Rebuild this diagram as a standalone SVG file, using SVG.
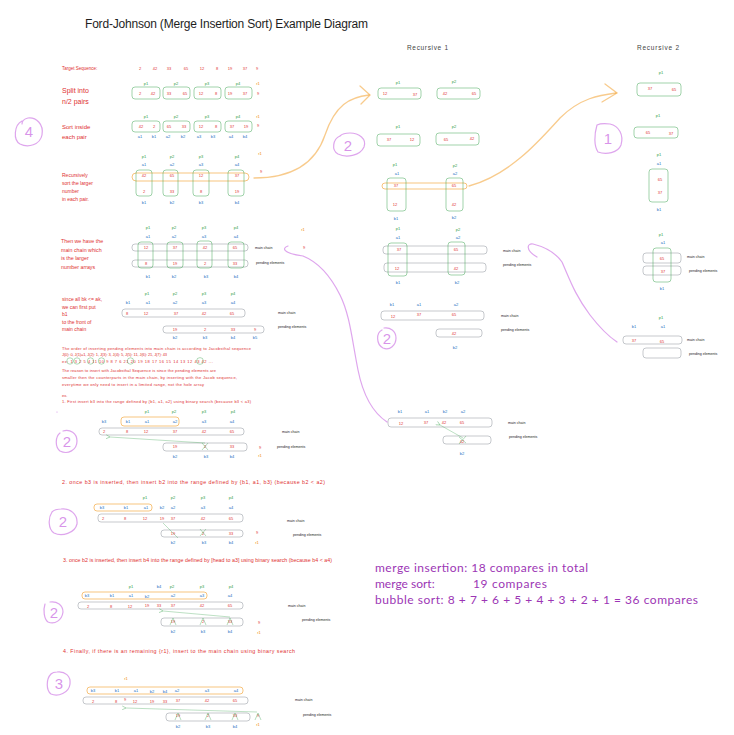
<svg xmlns="http://www.w3.org/2000/svg" width="734" height="735" viewBox="0 0 734 735">
<defs>
<style>
text{font-family:"Liberation Sans",Arial,sans-serif}
.r{fill:#e03131}.g{fill:#2f9e44}.bl{fill:#1971c2}.or{fill:#f08c00}
.s{font-size:4px;text-anchor:middle;dominant-baseline:central}
.k{fill:#1e1e1e;font-size:3.6px;dominant-baseline:central}
.lab{fill:#e03131;dominant-baseline:central}
.gb{fill:none;stroke:#2f9e44;stroke-opacity:.45;stroke-width:1}
.gr{fill:none;stroke:#868e96;stroke-opacity:.6;stroke-width:.8}
.ob{fill:none;stroke:#f08c00;stroke-opacity:.5;stroke-width:1}
.pu{fill:none;stroke:#be4bdb;stroke-opacity:.5;stroke-width:1.2;stroke-linecap:round}
.pt{fill:#be4bdb;fill-opacity:.6;font-size:15px;text-anchor:middle;dominant-baseline:central}
.oc{fill:none;stroke:#f08c00;stroke-opacity:.45;stroke-width:1.3;stroke-linecap:round}
.ga{fill:none;stroke:#2f9e44;stroke-opacity:.4;stroke-width:.8}
.x{fill:none;stroke:#2f9e44;stroke-opacity:.5;stroke-width:.7}
</style>
<marker id="ah" viewBox="0 0 10 10" refX="1" refY="5" markerWidth="6" markerHeight="6" orient="auto-start-reverse"><path d="M9,1 L1,5 L9,9" fill="none" stroke="#2f9e44" stroke-opacity=".6" stroke-width="1.3"/></marker>
</defs>
<rect width="734" height="735" fill="#ffffff"/>

<text x="85" y="28" font-size="12" fill="#1e1e1e" textLength="283">Ford-Johnson (Merge Insertion Sort) Example Diagram</text>
<text x="407" y="50" font-size="6.5" fill="#444" textLength="41">Recursive 1</text>
<text x="637" y="50" font-size="6.5" fill="#444" textLength="42">Recursive 2</text>

<g id="row-target">
<text x="62" y="68" class="lab" font-size="4.5">Target Sequence:</text>
<g class="r s"><text x="140" y="68">2</text><text x="155" y="68">42</text><text x="169" y="68">33</text><text x="186" y="68">65</text><text x="202" y="68">12</text><text x="217" y="68">8</text><text x="230" y="68">19</text><text x="245" y="68">37</text><text x="257" y="68">9</text></g>
</g>

<g id="row-split">
<text x="62" y="90" class="lab" font-size="7">Split into</text>
<text x="62" y="101" class="lab" font-size="7">n/2 pairs</text>
<rect class="gb" x="132" y="87" width="28" height="12" rx="3"/><rect class="gb" x="163" y="87" width="27" height="12" rx="3"/><rect class="gb" x="194" y="87" width="27" height="12" rx="3"/><rect class="gb" x="225" y="87" width="27" height="12" rx="3"/>
<g class="g s"><text x="146" y="83">p1</text><text x="176" y="83">p2</text><text x="207" y="83">p3</text><text x="238" y="83">p4</text></g>
<text x="258" y="83" class="or s">r1</text>
<g class="r s"><text x="140" y="93">2</text><text x="153" y="93">42</text><text x="169" y="93">33</text><text x="185" y="93">65</text><text x="201" y="93">12</text><text x="216" y="93">8</text><text x="230" y="93">19</text><text x="245" y="93">37</text><text x="258" y="93">9</text></g>
</g>

<g id="row-sort">
<text x="62" y="127" class="lab" font-size="6">Sort inside</text>
<text x="62" y="137" class="lab" font-size="6">each pair</text>
<rect class="gb" x="132" y="121" width="28" height="11" rx="3"/><rect class="gb" x="163" y="121" width="27" height="11" rx="3"/><rect class="gb" x="194" y="121" width="27" height="11" rx="3"/><rect class="gb" x="225" y="121" width="27" height="11" rx="3"/>
<g class="g s"><text x="146" y="116">p1</text><text x="176" y="116">p2</text><text x="207" y="116">p3</text><text x="238" y="116">p4</text></g>
<text x="258" y="116" class="or s">r1</text>
<g class="r s"><text x="141" y="126.5">42</text><text x="154" y="126.5">2</text><text x="169" y="126.5">65</text><text x="184" y="126.5">33</text><text x="201" y="126.5">12</text><text x="216" y="126.5">8</text><text x="232" y="126.5">37</text><text x="246" y="126.5">19</text><text x="258" y="125">9</text></g>
<g class="bl s"><text x="140" y="136">a1</text><text x="154" y="136">b1</text><text x="168" y="136">a2</text><text x="183" y="136">b2</text><text x="199" y="136">a3</text><text x="213" y="136">b3</text><text x="231" y="136">a4</text><text x="245" y="136">b4</text></g>
</g>

<g id="row-recursive">
<text x="62" y="175" class="lab" font-size="5">Recursively</text>
<text x="62" y="183" class="lab" font-size="5">sort the larger</text>
<text x="62" y="191" class="lab" font-size="5">number</text>
<text x="62" y="199" class="lab" font-size="5">in each pair.</text>
<rect class="ob" x="132" y="173" width="117" height="8" rx="4"/>
<rect class="gb" x="136" y="170" width="16" height="26" rx="3"/><rect class="gb" x="163" y="170" width="15" height="26" rx="3"/><rect class="gb" x="193" y="170" width="16" height="26" rx="3"/><rect class="gb" x="228" y="170" width="16" height="26" rx="3"/>
<g class="g s"><text x="144" y="156">p1</text><text x="172" y="156">p2</text><text x="201" y="156">p3</text><text x="237" y="156">p4</text></g>
<g class="bl s"><text x="144" y="164">a1</text><text x="172" y="164">a2</text><text x="201" y="164">a3</text><text x="237" y="164">a4</text><text x="144" y="202">b1</text><text x="172" y="202">b2</text><text x="201" y="202">b3</text><text x="237" y="202">b4</text></g>
<text x="260" y="153" class="or s">r1</text>
<g class="r s"><text x="144" y="175">42</text><text x="172" y="175">65</text><text x="201" y="175">12</text><text x="237" y="175">37</text><text x="144" y="191">2</text><text x="172" y="191">33</text><text x="201" y="191">8</text><text x="237" y="191">19</text><text x="261" y="171">9</text></g>
</g>

<g id="row-mainchain">
<text x="61" y="241" class="lab" font-size="5.3">Then we have the</text>
<text x="61" y="249.5" class="lab" font-size="5.3">main chain which</text>
<text x="61" y="258" class="lab" font-size="5.3">is the larger</text>
<text x="61" y="267" class="lab" font-size="5.3">number arrays</text>
<rect class="gr" x="132" y="244" width="116" height="7" rx="3"/><rect class="gr" x="132" y="260" width="116" height="7" rx="3"/>
<rect class="gb" x="138" y="242" width="15" height="26" rx="3"/><rect class="gb" x="167" y="242" width="16" height="26" rx="3"/><rect class="gb" x="197" y="241" width="15" height="27" rx="3"/><rect class="gb" x="228" y="242" width="16" height="26" rx="3"/>
<g class="g s"><text x="148" y="227">p1</text><text x="174" y="227">p2</text><text x="204" y="227">p3</text><text x="236" y="227">p4</text></g>
<g class="bl s"><text x="148" y="236">a1</text><text x="174" y="236">a2</text><text x="204" y="236">a3</text><text x="236" y="236">a4</text><text x="148" y="276">b1</text><text x="174" y="276">b2</text><text x="206" y="276">b3</text><text x="236" y="276">b4</text></g>
<g class="r s"><text x="146" y="247.5">12</text><text x="175" y="247.5">37</text><text x="205" y="247.5">42</text><text x="235" y="247.5">65</text><text x="146" y="263.5">8</text><text x="175" y="263.5">19</text><text x="205" y="263.5">2</text><text x="235" y="263.5">33</text><text x="304" y="247">9</text></g>
<text x="303" y="229" class="or s">r1</text>
<text x="255" y="248" class="k">main chain</text><text x="256" y="263" class="k">pending elements</text>
</g>

<g id="row-b1front">
<text x="62" y="299" class="lab" font-size="5">since all bk &lt;= ak,</text>
<text x="62" y="307" class="lab" font-size="5">we can first put</text>
<text x="62" y="314" class="lab" font-size="5">b1</text>
<text x="62" y="322" class="lab" font-size="5">to the front of</text>
<text x="62" y="329" class="lab" font-size="5">main chain</text>
<rect class="gr" x="122" y="309" width="123" height="8" rx="3"/><rect class="gr" x="163" y="326" width="101" height="7" rx="3"/>
<g class="g s"><text x="147" y="293">p1</text><text x="175" y="293">p2</text><text x="204" y="293">p3</text><text x="233" y="293">p4</text></g>
<g class="bl s"><text x="128" y="302">b1</text><text x="148" y="302">a1</text><text x="175" y="302">a2</text><text x="204" y="302">a3</text><text x="233" y="302">a4</text><text x="175" y="337">b2</text><text x="205" y="337">b3</text><text x="233" y="337">b4</text><text x="255" y="337">b5</text></g>
<g class="r s"><text x="127" y="313">8</text><text x="146" y="313">12</text><text x="176" y="313">37</text><text x="204" y="313">42</text><text x="232" y="313">65</text><text x="175" y="329">19</text><text x="205" y="329">2</text><text x="233" y="329">33</text><text x="255" y="329">9</text></g>
<text x="278" y="313" class="k">main chain</text><text x="278" y="327" class="k">pending elements</text>
</g>

<g id="notes" class="r" font-size="4">
<text x="62" y="350" textLength="189">The order of inserting pending elements into main chain is according to Jacobsthal sequence</text>
<text x="62" y="356" textLength="105">J(0): 0, J(1)=1, J(2): 1, J(3): 3, J(4): 5, J(5): 11, J(6): 21, J(7): 43</text>
<text x="62" y="362.5" textLength="151">ex: 1 3 2 5 4 11 10 9 8 7 6 21 20 19 18 17 16 15 14 13 12 43 42 ...</text>
<text x="62" y="372" textLength="154">The reason to insert with Jacobsthal Sequence is since the pending elements are</text>
<text x="62" y="379" textLength="175">smaller then the counterparts in the main chain, by inserting with the Jacob sequence,</text>
<text x="62" y="385.5" textLength="142">everytime we only need to insert in a limited range, not the hole array</text>
<text x="62" y="396.5">ex.</text>
<text x="62" y="402.5" textLength="189">1. First insert b3 into the range defined by {b1, a1, a2} using binary search (because b3 &lt; a3)</text>
</g>
<g id="jacob-circles" fill="none" stroke="#2f9e44" stroke-opacity=".55" stroke-width=".7">
<circle cx="70" cy="361" r="3.2"/><circle cx="77" cy="361" r="3.2"/><circle cx="90.5" cy="361" r="3.2"/><circle cx="101.5" cy="361" r="3.2"/><circle cx="130.5" cy="361" r="3.2"/><circle cx="200" cy="361" r="3.4"/>
</g>

<g id="step1">
<rect class="ob" x="121" y="417" width="58" height="9" rx="3"/>
<rect class="gr" x="99" y="428" width="145" height="7" rx="3"/><rect class="gr" x="163" y="443" width="84" height="8" rx="3"/>
<g class="g s"><text x="147" y="411">p1</text><text x="174" y="411">p2</text><text x="204" y="411">p3</text><text x="233" y="411">p4</text></g>
<g class="bl s"><text x="104" y="421">b3</text><text x="128" y="421">b1</text><text x="147" y="421">a1</text><text x="175" y="421">a2</text><text x="204" y="421">a3</text><text x="232" y="421">a4</text><text x="175" y="456">b2</text><text x="206" y="456">b3</text><text x="232" y="456">b4</text></g>
<g class="r s"><text x="104" y="431">2</text><text x="127" y="431">8</text><text x="146" y="431">12</text><text x="175" y="431">37</text><text x="204" y="431">42</text><text x="232" y="431">65</text><text x="175" y="446.5">19</text><text x="205" y="446.5">2</text><text x="232" y="446.5">33</text><text x="260" y="447">9</text></g>
<text x="260" y="455" class="or s">r1</text>
<text x="282" y="432" class="k">main chain</text><text x="277" y="447" class="k">pending elements</text>
<text x="62" y="481.5" class="lab" font-size="5.3" textLength="263">2. once b3 is inserted, then insert b2 into the range defined by {b1, a1, b3} (because b2 &lt; a2)</text>
</g>

<g id="step2">
<rect class="ob" x="94" y="504" width="58" height="7" rx="3"/>
<rect class="gr" x="98" y="514" width="145" height="8" rx="3"/><rect class="gr" x="161" y="530" width="82" height="7" rx="3"/>
<g class="g s"><text x="145" y="497">p1</text><text x="173" y="497">p2</text><text x="203" y="497">p3</text><text x="231" y="497">p4</text></g>
<g class="bl s"><text x="102" y="507">b3</text><text x="126" y="507">b1</text><text x="146" y="507">a1</text><text x="162" y="507">b2</text><text x="173" y="507">a2</text><text x="203" y="507">a3</text><text x="231" y="507">a4</text><text x="173" y="542">b2</text><text x="204" y="542">b3</text><text x="231" y="542">b4</text></g>
<g class="r s"><text x="103" y="518">2</text><text x="125" y="518">8</text><text x="145" y="518">12</text><text x="162" y="518">19</text><text x="173" y="518">37</text><text x="203" y="518">42</text><text x="231" y="518">65</text><text x="173" y="533">19</text><text x="203" y="533">2</text><text x="231" y="533">33</text><text x="257" y="532">9</text></g>
<text x="257" y="542" class="or s">r1</text>
<text x="287" y="521" class="k">main chain</text><text x="293" y="535" class="k">pending elements</text>
<text x="63" y="559.5" class="lab" font-size="5.3" textLength="269">3. once b2 is inserted, then insert b4 into the range defined by [head to a3] using binary search (because b4 &lt; a4)</text>
</g>

<g id="step3">
<rect class="ob" x="82" y="592" width="125" height="7" rx="3"/>
<rect class="gr" x="78" y="602" width="165" height="7" rx="3"/><rect class="gr" x="161" y="618" width="82" height="8" rx="3"/>
<g class="g s"><text x="131" y="586">p1</text><text x="172" y="586">p2</text><text x="202" y="586">p3</text><text x="231" y="586">p4</text></g>
<g class="bl s"><text x="159" y="586">b4</text><text x="87" y="595.5">b3</text><text x="112" y="595.5">b1</text><text x="131" y="595.5">a1</text><text x="147" y="596.5">b2</text><text x="173" y="595.5">a2</text><text x="202" y="595.5">a3</text><text x="230" y="595.5">a4</text><text x="173" y="631">b2</text><text x="203" y="631">b3</text><text x="230" y="631">b4</text></g>
<g class="r s"><text x="88" y="606">2</text><text x="111" y="606">8</text><text x="130" y="606">12</text><text x="147" y="605.5">19</text><text x="159" y="605.5">33</text><text x="173" y="605.5">37</text><text x="202" y="605">42</text><text x="230" y="605">65</text><text x="173" y="621.5">19</text><text x="203" y="621.5">2</text><text x="230" y="621.5">33</text><text x="259" y="622">9</text></g>
<text x="259" y="632" class="or s">r1</text>
<text x="288" y="606" class="k">main chain</text><text x="302" y="620" class="k">pending elements</text>
<text x="63" y="650.5" class="lab" font-size="5.3" textLength="232">4. Finally, if there is an remaining {r1}, insert to the main chain using binary search</text>
</g>

<g id="step4">
<rect class="ob" x="87" y="687" width="156" height="7" rx="3"/>
<rect class="gr" x="83" y="697" width="165" height="7" rx="3"/><rect class="gr" x="166" y="713" width="84" height="8" rx="3"/>
<text x="126" y="678" class="or s">r1</text>
<g class="bl s"><text x="93" y="690.5">b3</text><text x="117" y="690.5">b1</text><text x="136" y="690.5">a1</text><text x="152" y="691.5">b2</text><text x="165" y="691.5">b4</text><text x="177" y="690.5">a2</text><text x="207" y="690.5">a3</text><text x="236" y="690.5">a4</text><text x="178" y="726">b2</text><text x="208" y="726">b3</text><text x="235" y="726">b4</text></g>
<g class="r s"><text x="93" y="701">2</text><text x="116" y="701">8</text><text x="125" y="699">9</text><text x="135" y="701">12</text><text x="152" y="701">19</text><text x="165" y="701">33</text><text x="178" y="700.5">37</text><text x="207" y="700">42</text><text x="235" y="700">65</text><text x="178" y="715">19</text><text x="208" y="715">2</text><text x="235" y="715">33</text><text x="258" y="715">9</text></g>
<text x="258" y="724" class="or s">r1</text>
<text x="295" y="700" class="k">main chain</text><text x="303" y="715" class="k">pending elements</text>
</g>

<g id="rec1-pairs">
<rect class="gb" x="378" y="88" width="43" height="11" rx="3"/><rect class="gb" x="437" y="88" width="43" height="11" rx="3"/>
<g class="g s"><text x="398" y="82">p1</text><text x="454" y="81">p2</text></g>
<g class="r s"><text x="385" y="93.5">12</text><text x="415" y="94">37</text><text x="445" y="93.5">42</text><text x="474" y="93.5">65</text></g>
</g>
<g id="rec1-sorted">
<rect class="gb" x="377" y="134" width="43" height="12" rx="3"/><rect class="gb" x="436" y="133" width="43" height="12" rx="3"/>
<g class="g s"><text x="398" y="126">p1</text><text x="454" y="126">p2</text></g>
<g class="r s"><text x="389" y="139.5">37</text><text x="412" y="139">12</text><text x="446" y="139">65</text><text x="472" y="138.5">42</text></g>
</g>
<g id="rec1-recursive">
<rect class="ob" x="382" y="183" width="85" height="6" rx="3"/>
<rect class="gb" x="387" y="178" width="19" height="33" rx="3"/><rect class="gb" x="446" y="178" width="17" height="33" rx="3"/>
<g class="g s"><text x="395" y="164">p1</text><text x="455" y="165">p2</text></g>
<g class="bl s"><text x="397" y="173">a1</text><text x="455" y="173">a2</text><text x="396" y="218">b1</text><text x="454" y="217">b2</text></g>
<g class="r s"><text x="396" y="185.5">37</text><text x="454" y="185.5">65</text><text x="395" y="204">12</text><text x="454" y="204">42</text></g>
</g>
<g id="rec1-chain">
<rect class="gr" x="383" y="246" width="104" height="8" rx="3"/><rect class="gr" x="384" y="263" width="102" height="9" rx="3"/>
<rect class="gb" x="388" y="243" width="19" height="33" rx="3"/><rect class="gb" x="448" y="242" width="17" height="33" rx="3"/>
<g class="g s"><text x="398" y="228">p1</text><text x="458" y="229">p2</text></g>
<g class="bl s"><text x="398" y="237">a1</text><text x="458" y="237">a2</text><text x="398" y="282">b1</text><text x="457" y="282">b2</text></g>
<g class="r s"><text x="399" y="249.5">37</text><text x="456" y="249.5">65</text><text x="397" y="268">12</text><text x="456" y="268">42</text></g>
<text x="503" y="251" class="k">main chain</text><text x="503" y="265" class="k">pending elements</text>
</g>
<g id="rec1-b1front">
<rect class="gr" x="381" y="311" width="103" height="9" rx="3"/><rect class="gr" x="436" y="329" width="46" height="8" rx="3"/>
<g class="bl s"><text x="392" y="304">b1</text><text x="419" y="304">a1</text><text x="456" y="304">a2</text><text x="455" y="347">b2</text></g>
<g class="r s"><text x="393" y="316">12</text><text x="419" y="314">37</text><text x="454" y="314">65</text><text x="454" y="333">42</text></g>
<text x="501" y="316" class="k">main chain</text><text x="501" y="330" class="k">pending elements</text>
</g>
<g id="rec1-insert">
<rect class="gr" x="388" y="418" width="104" height="9" rx="3"/><rect class="gr" x="443" y="436" width="48" height="8" rx="3"/>
<g class="bl s"><text x="400" y="411">b1</text><text x="427" y="411">a1</text><text x="445" y="411">b2</text><text x="463" y="411">a2</text><text x="462" y="453">b2</text></g>
<g class="r s"><text x="401" y="423.5">12</text><text x="426" y="422">37</text><text x="444" y="422">42</text><text x="462" y="422">65</text><text x="462" y="441">42</text></g>
<text x="508" y="423" class="k">main chain</text><text x="509" y="437" class="k">pending elements</text>
</g>

<g id="rec2-pair">
<rect class="gb" x="637" y="83" width="44" height="13" rx="3"/>
<text x="661" y="72" class="g s">p1</text>
<g class="r s"><text x="650" y="88.5">37</text><text x="674" y="89">65</text></g>
</g>
<g id="rec2-sorted">
<rect class="gb" x="634" y="127" width="44" height="11" rx="3"/>
<text x="658" y="115" class="g s">p1</text>
<g class="r s"><text x="648" y="132">65</text><text x="671" y="133">37</text></g>
</g>
<g id="rec2-vertical">
<rect class="gb" x="649" y="169" width="19" height="33" rx="3"/>
<text x="659" y="154" class="g s">p1</text>
<g class="bl s"><text x="659" y="163">a1</text><text x="659" y="209">b1</text></g>
<g class="r s"><text x="660" y="179">65</text><text x="660" y="192">37</text></g>
</g>
<g id="rec2-chain">
<rect class="gr" x="643" y="253" width="38" height="10" rx="3"/><rect class="gr" x="643" y="266" width="38" height="9" rx="3"/>
<rect class="gb" x="653" y="248" width="18" height="34" rx="3"/>
<text x="661" y="234" class="g s">p1</text>
<g class="bl s"><text x="663" y="242">a1</text><text x="662" y="288">b1</text></g>
<g class="r s"><text x="662" y="258">65</text><text x="663" y="271">37</text></g>
<text x="687" y="257" class="k">main chain</text><text x="689" y="271" class="k">pending elements</text>
</g>
<g id="rec2-final">
<rect class="gr" x="623" y="336" width="59" height="8" rx="3"/><rect class="gr" x="643" y="348" width="38" height="10" rx="3"/>
<text x="661" y="317" class="g s">p1</text>
<g class="bl s"><text x="634" y="326">b1</text><text x="663" y="326">a1</text></g>
<g class="r s"><text x="634" y="340">37</text><text x="662" y="341">65</text></g>
<text x="687" y="340" class="k">main chain</text><text x="689" y="354" class="k">pending elements</text>
</g>

<g id="stats" fill="#9c36b5" font-size="12">
<text x="375" y="572" textLength="213" style="font-family:Lato,'Noto Sans',sans-serif">merge insertion: 18 compares in total</text>
<text x="375" y="588" style="font-family:Lato,'Noto Sans',sans-serif">merge sort:</text>
<text x="473" y="588" textLength="74" style="font-family:Lato,'Noto Sans',sans-serif">19 compares</text>
<text x="375" y="604" textLength="323" style="font-family:Lato,'Noto Sans',sans-serif">bubble sort:  8 + 7 + 6 + 5 + 4 + 3 + 2 + 1 = 36 compares</text>
</g>

<g id="marks">
<path class="pu" d="M22,121 C14,125 13,140 20,144 C28,148 40,145 42,135 C44,124 36,117 28,118 C24,119 22,121 22,124"/>
<text x="29" y="131" class="pt" font-size="14">4</text>
<path class="pu" d="M340,136 C333,139 331,150 338,154 C346,158 360,156 364,147 C367,139 359,133 350,133 C345,133 342,134 340,136"/>
<text x="348" y="145" class="pt" font-size="11">2</text>
<path class="pu" d="M382,330 C376,333 376,344 383,348 C390,351 396,345 396,338 C396,331 390,327 384,328"/>
<text x="387" y="338" class="pt" font-size="8">2</text>
<path class="pu" d="M597,125 C594,135 594,146 598,152 C606,155 618,153 621,145 C624,135 619,126 610,124 C603,123 599,124 597,125"/>
<text x="608" y="138" class="pt" font-size="11">1</text>
<path class="pu" d="M60,433 C55,437 55,447 60,451 C68,455 77,450 77,441 C77,433 70,429 63,431"/>
<text x="67" y="441" class="pt" font-size="10">2</text>
<path class="pu" d="M52,512 C48,518 48,529 54,533 C62,537 75,533 77,524 C78,514 70,508 61,509 C57,509 54,510 52,512"/>
<text x="63" y="521" class="pt" font-size="12">2</text>
<path class="pu" d="M45,604 C43,610 44,619 48,622 C55,625 62,620 63,612 C63,605 57,601 50,602"/>
<text x="54" y="612" class="pt" font-size="11">2</text>
<path class="pu" d="M51,674 C46,679 46,690 51,694 C58,697 69,693 70,684 C71,676 65,671 57,672 C54,672 52,673 51,674"/>
<text x="59" y="683" class="pt" font-size="12">3</text>
<circle cx="57" cy="412" r=".6" fill="#be4bdb" fill-opacity=".6"/>
</g>

<g id="connectors">
<path class="oc" d="M254,178 C290,178 315,165 325,135 C335,105 350,97 369,95"/>
<path class="oc" d="M360,86 L370,95 L361,104"/>
<path class="oc" d="M469,186 C510,175 540,140 560,118 C580,98 600,95 616,93"/>
<path class="oc" d="M605,84 L617,93 L602,102"/>
<path class="pu" d="M288,246 C282,248 282,253 303,256 C318,262 330,275 340,295 C350,315 352,340 358,370 C363,395 372,412 387,422"/>
<path class="pu" d="M537,257 C525,250 527,243 533,244 C545,247 555,252 562,262 C570,280 575,295 590,315 C600,328 608,336 617,342"/>
<path class="ga" d="M205,443 L110,437" marker-end="url(#ah)"/>
<path class="x" d="M202,443 L208,450 M208,443 L202,450"/>
<path class="ga" d="M178,538 L163,523"/>
<path class="x" d="M200,529 L206,536 M206,529 L200,536"/>
<path class="ga" d="M230,617 L163,611" marker-end="url(#ah)"/>
<path class="x" d="M170,625 L173,618 L176,625 M200,625 L203,618 L206,625 M227,625 L230,618 L233,625"/>
<path class="ga" d="M257,712 L126,708" marker-end="url(#ah)"/>
<path class="x" d="M175,720 L178,713 L181,720 M205,720 L208,713 L211,720 M232,720 L235,713 L238,720 M255,720 L258,713 L261,720"/>
<path class="ga" d="M463,438 L440,425" marker-end="url(#ah)"/>
<path class="x" d="M459,437 L466,443 M466,436 L459,444"/>
</g>
</svg>
